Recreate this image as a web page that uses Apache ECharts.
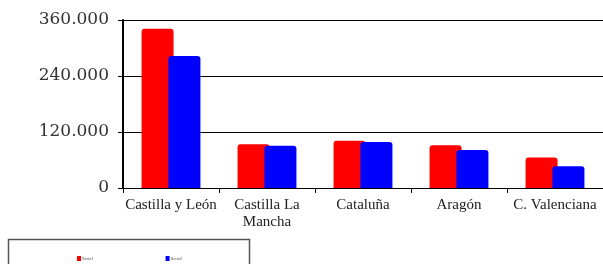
<!DOCTYPE html>
<html>
<head>
<meta charset="utf-8">
<script src="https://cdn.jsdelivr.net/npm/echarts@6/dist/echarts.min.js"></script>
<style>
  html, body { margin: 0; padding: 0; background: #fff; }
  #chart { width: 603px; height: 264px; }
</style>
</head>
<body>
<div id="chart"></div>
<script>
// categorías (comunidades)
var categories = ["Castilla y León", "Castilla La\nMancha", "Cataluña", "Aragón", "C. Valenciana"];
var serieNames = ["Serie1", "Serie2"];
var serieRoja = [341000, 94000, 101500, 91500, 65500];
var serieAzul = [283000, 90500, 98500, 81500, 46500];
var yTicks = [0, 120000, 240000, 360000];

var chart = echarts.init(document.getElementById("chart"));

function fmt(v) {
  // separador de miles con punto
  return String(v).replace(/\B(?=(\d{3})+(?!\d))/g, ".");
}

chart.setOption({
  animation: false,
  grid: { left: 123, right: 0, top: 20, bottom: 76 },
  legend: {
    data: serieNames,
    left: 72,
    top: 251,
    itemWidth: 4,
    itemHeight: 5,
    itemGap: 72,
    icon: "rect",
    textStyle: { fontSize: 4, color: "#555", padding: [0, 0, 0, -4] }
  },
  graphic: [
    {
      type: "rect",
      shape: { x: 8.5, y: 239.5, width: 241, height: 40 },
      style: { fill: "none", stroke: "#555", lineWidth: 1.5 },
      silent: true
    }
  ],
  xAxis: {
    type: "category",
    data: categories,
    axisLine: { lineStyle: { color: "#000", width: 1 } },
    axisTick: { show: true, length: 5, inside: false, lineStyle: { color: "#000" } },
    axisLabel: {
      color: "#222",
      fontFamily: "Liberation Serif",
      fontSize: 15,
      margin: 9,
      lineHeight: 17,
      interval: 0
    }
  },
  yAxis: {
    type: "value",
    min: 0,
    max: 360000,
    interval: 120000,
    axisLine: { show: true, lineStyle: { color: "#000", width: 2 } },
    axisTick: { show: true, length: 5, lineStyle: { color: "#000" } },
    splitLine: { lineStyle: { color: "#000", width: 1 } },
    axisLabel: {
      color: "#333",
      fontFamily: "DejaVu Serif",
      fontSize: 17,
      margin: 14,
      padding: [8, 0, 0, 0],
      formatter: function (v) { return yTicks.indexOf(v) >= 0 ? fmt(v) : ""; }
    }
  },
  series: [
    {
      name: serieNames[0],
      type: "bar",
      data: serieRoja,
      barWidth: 32,
      barGap: "-16%",
      itemStyle: { color: "#ff0000", borderRadius: [3, 3, 0, 0] }
    },
    {
      name: serieNames[1],
      type: "bar",
      data: serieAzul,
      barWidth: 32,
      barGap: "-16%",
      itemStyle: { color: "#0000ff", borderRadius: [3, 3, 0, 0] }
    }
  ]
});

window.addEventListener("resize", function () {
  chart.resize();
});
</script>
</body>
</html>
